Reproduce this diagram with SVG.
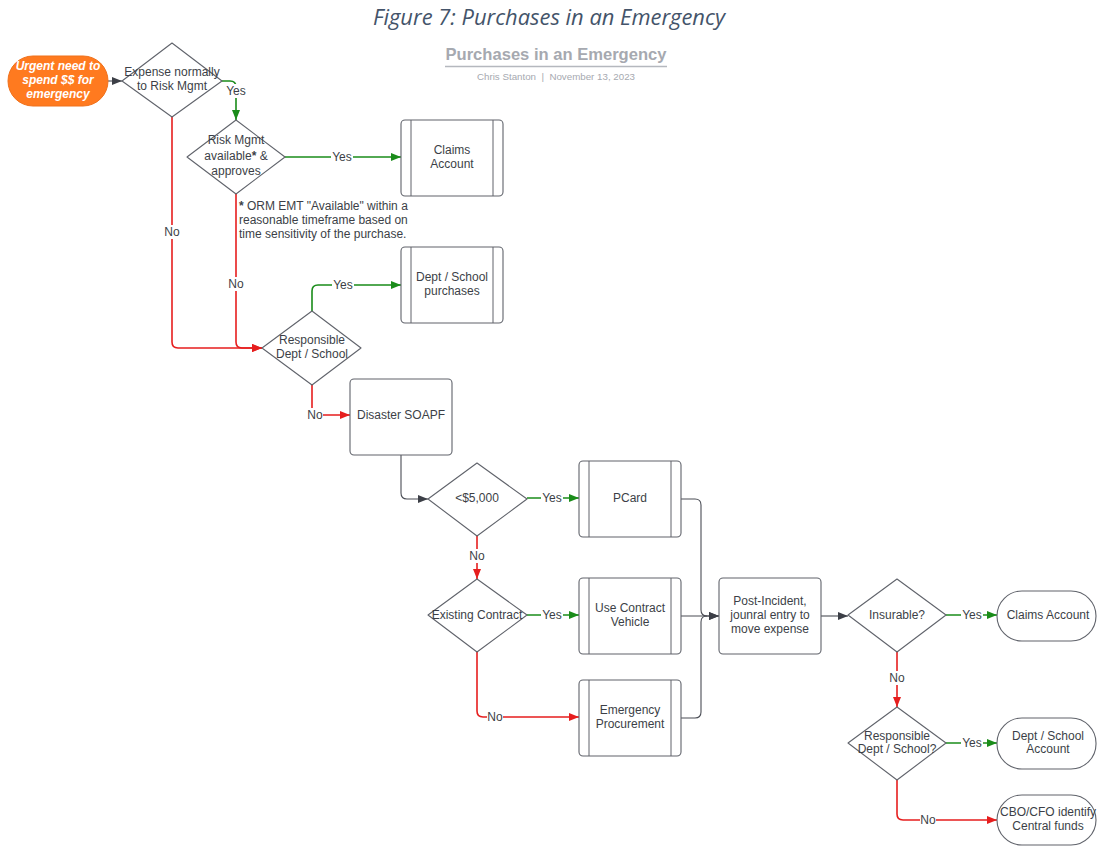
<svg xmlns="http://www.w3.org/2000/svg" width="1097" height="848" viewBox="0 0 1097 848">
<style>
.shape{fill:#fff;stroke:#60636b;stroke-width:1.1;stroke-linejoin:round}
.t{font-family:"Liberation Sans",Arial,sans-serif;font-size:12px;fill:#3c3f47;text-anchor:middle}
.lbl{font-family:"Liberation Sans",Arial,sans-serif;font-size:12px;fill:#3c3f47;text-anchor:middle;dominant-baseline:central}
.g{fill:none;stroke:#1a8c1a;stroke-width:1.6}
.r{fill:none;stroke:#e61e1e;stroke-width:1.6}
.k{fill:none;stroke:#4a4d55;stroke-width:1.1}
.bg{fill:#fff}
</style>
<defs>
<marker id="ag" viewBox="0 0 10 8" refX="10" refY="4" markerWidth="10" markerHeight="8" markerUnits="userSpaceOnUse" orient="auto"><path d="M0,0 L10,4 L0,8 Z" fill="#1a8c1a"/></marker>
<marker id="ar" viewBox="0 0 10 8" refX="10" refY="4" markerWidth="10" markerHeight="8" markerUnits="userSpaceOnUse" orient="auto"><path d="M0,0 L10,4 L0,8 Z" fill="#e61e1e"/></marker>
<marker id="ak" viewBox="0 0 10 8" refX="10" refY="4" markerWidth="10" markerHeight="8" markerUnits="userSpaceOnUse" orient="auto"><path d="M0,0 L10,4 L0,8 Z" fill="#3c3f47"/></marker>
</defs>
<rect width="1097" height="848" fill="#fff"/>

<g id="titles">
<text x="549" y="25" font-family="'Open Sans',sans-serif" font-style="italic" font-size="21" fill="#44546a" text-anchor="middle" textLength="352" lengthAdjust="spacingAndGlyphs">Figure 7: Purchases in an Emergency</text>
<text x="556" y="60" font-family="'Liberation Sans',Arial,sans-serif" font-weight="bold" font-size="16.5" fill="#a6a9b0" text-anchor="middle" textLength="221" lengthAdjust="spacingAndGlyphs">Purchases in an Emergency</text>
<line x1="445" y1="66.5" x2="667" y2="66.5" stroke="#b5b8be" stroke-width="1.5"/>
<text x="556" y="80" font-family="'Liberation Sans',Arial,sans-serif" font-size="9.5" fill="#a6a9b0" text-anchor="middle" xml:space="preserve" textLength="158" lengthAdjust="spacingAndGlyphs">Chris Stanton  |  November 13, 2023</text>
</g>

<g id="connectors">
<path class="k" d="M108,81 L122,81" marker-end="url(#ak)"/>
<path class="g" d="M222,81 L230,81 Q236,81 236,87 L236,120" marker-end="url(#ag)"/>
<path class="g" d="M285,157 L401,157" marker-end="url(#ag)"/>
<path class="r" d="M172,117 L172,342 Q172,348 178,348 L262,348" marker-end="url(#ar)"/>
<path class="r" d="M236,194 L236,342 Q236,348 242,348 L262,348" marker-end="url(#ar)"/>
<path class="g" d="M312,311 L312,291 Q312,285 318,285 L401,285" marker-end="url(#ag)"/>
<path class="r" d="M312,385 L312,415 L350,415" marker-end="url(#ar)"/>
<path class="k" d="M401,455 L401,493 Q401,499 407,499 L428,499" marker-end="url(#ak)"/>
<path class="g" d="M527,498 L579,498" marker-end="url(#ag)"/>
<path class="r" d="M477,536 L477,579" marker-end="url(#ar)"/>
<path class="g" d="M527,615 L579,615" marker-end="url(#ag)"/>
<path class="r" d="M477,652 L477,711 Q477,717 483,717 L579,717" marker-end="url(#ar)"/>
<path class="k" d="M681,499 L695,499 Q701,499 701,505 L701,610 Q701,616 707,616 L719,616" marker-end="url(#ak)"/>
<path class="k" d="M681,616 L719,616" marker-end="url(#ak)"/>
<path class="k" d="M681,718 L695,718 Q701,718 701,712 L701,622 Q701,616 707,616"/>
<path class="k" d="M821,616 L848,616" marker-end="url(#ak)"/>
<path class="g" d="M946,615 L997,615" marker-end="url(#ag)"/>
<path class="r" d="M897,652 L897,707" marker-end="url(#ar)"/>
<path class="g" d="M946,743 L997,743" marker-end="url(#ag)"/>
<path class="r" d="M897,780 L897,814 Q897,820 903,820 L997,820" marker-end="url(#ar)"/>
<g id="labels">
<rect class="bg" x="225" y="84" width="22" height="14"/><text class="lbl" x="236" y="91">Yes</text>
<rect class="bg" x="331" y="150" width="22" height="14"/><text class="lbl" x="342" y="157">Yes</text>
<rect class="bg" x="164" y="225" width="16" height="14"/><text class="lbl" x="172" y="232">No</text>
<rect class="bg" x="228" y="277" width="16" height="14"/><text class="lbl" x="236" y="284">No</text>
<rect class="bg" x="332" y="278" width="22" height="14"/><text class="lbl" x="343" y="285">Yes</text>
<rect class="bg" x="307" y="408" width="16" height="14"/><text class="lbl" x="315" y="415">No</text>
<rect class="bg" x="541" y="491" width="22" height="14"/><text class="lbl" x="552" y="498">Yes</text>
<rect class="bg" x="469" y="549" width="16" height="14"/><text class="lbl" x="477" y="556">No</text>
<rect class="bg" x="541" y="608" width="22" height="14"/><text class="lbl" x="552" y="615">Yes</text>
<rect class="bg" x="487" y="710" width="16" height="14"/><text class="lbl" x="495" y="717">No</text>
<rect class="bg" x="961" y="608" width="22" height="14"/><text class="lbl" x="972" y="615">Yes</text>
<rect class="bg" x="889" y="671" width="16" height="14"/><text class="lbl" x="897" y="678">No</text>
<rect class="bg" x="961" y="736" width="22" height="14"/><text class="lbl" x="972" y="743">Yes</text>
<rect class="bg" x="920" y="813" width="16" height="14"/><text class="lbl" x="928" y="820">No</text>
</g>
</g>

<g id="start">
<rect x="8" y="56" width="100" height="50" rx="25" fill="#ff7a1f" stroke="#f0701a"/>
<text class="t" x="58" y="70" font-weight="bold" font-style="italic" style="fill:#fff">Urgent need to</text>
<text class="t" x="58" y="84" font-weight="bold" font-style="italic" style="fill:#fff">spend $$ for</text>
<text class="t" x="58" y="98" font-weight="bold" font-style="italic" style="fill:#fff">emergency</text>
</g>

<g id="d-expense">
<path class="shape" d="M172,43 L222,81 L172,117 L122,81 Z"/>
<text class="t" x="172" y="76">Expense normally</text>
<text class="t" x="172" y="90">to Risk Mgmt</text>
</g>

<g id="d-riskmgmt">
<path class="shape" d="M236,120 L285,157 L236,194 L187,157 Z"/>
<text class="t" x="236" y="144">Risk Mgmt</text>
<text class="t" x="236" y="160">available<tspan font-weight="bold">*</tspan> &amp;</text>
<text class="t" x="236" y="175">approves</text>
</g>

<g id="note">
<text class="t" x="239" y="210" style="text-anchor:start"><tspan font-weight="bold">*</tspan> ORM EMT "Available" within a</text>
<text class="t" x="239" y="224" style="text-anchor:start">reasonable timeframe based on</text>
<text class="t" x="239" y="238" style="text-anchor:start">time sensitivity of the purchase.</text>
</g>

<g id="claims1">
<rect class="shape" x="401" y="120" width="102" height="76" rx="4"/>
<line x1="411" y1="120" x2="411" y2="196" stroke="#60636b"/>
<line x1="493" y1="120" x2="493" y2="196" stroke="#60636b"/>
<text class="t" x="452" y="154">Claims</text>
<text class="t" x="452" y="168">Account</text>
</g>

<g id="deptpurch">
<rect class="shape" x="401" y="247" width="102" height="76" rx="4"/>
<line x1="411" y1="247" x2="411" y2="323" stroke="#60636b"/>
<line x1="493" y1="247" x2="493" y2="323" stroke="#60636b"/>
<text class="t" x="452" y="281">Dept / School</text>
<text class="t" x="452" y="295">purchases</text>
</g>

<g id="d-respdept">
<path class="shape" d="M312,311 L361,348 L312,385 L262,348 Z"/>
<text class="t" x="312" y="344">Responsible</text>
<text class="t" x="312" y="358">Dept / School</text>
</g>

<g id="soapf">
<rect class="shape" x="350" y="379" width="102" height="76" rx="4"/>
<text class="t" x="401" y="419">Disaster SOAPF</text>
</g>

<g id="d-5000">
<path class="shape" d="M477,463 L527,499 L477,536 L428,499 Z"/>
<text class="t" x="477" y="502">&lt;$5,000</text>
</g>

<g id="pcard">
<rect class="shape" x="579" y="461" width="102" height="76" rx="4"/>
<line x1="589" y1="461" x2="589" y2="537" stroke="#60636b"/>
<line x1="671" y1="461" x2="671" y2="537" stroke="#60636b"/>
<text class="t" x="630" y="502">PCard</text>
</g>

<g id="d-contract">
<path class="shape" d="M477,579 L527,615 L477,652 L428,615 Z"/>
<text class="t" x="477" y="619">Existing Contract</text>
</g>

<g id="contract">
<rect class="shape" x="579" y="578" width="102" height="76" rx="4"/>
<line x1="589" y1="578" x2="589" y2="654" stroke="#60636b"/>
<line x1="671" y1="578" x2="671" y2="654" stroke="#60636b"/>
<text class="t" x="630" y="612">Use Contract</text>
<text class="t" x="630" y="626">Vehicle</text>
</g>

<g id="emergency">
<rect class="shape" x="579" y="680" width="102" height="76" rx="4"/>
<line x1="589" y1="680" x2="589" y2="756" stroke="#60636b"/>
<line x1="671" y1="680" x2="671" y2="756" stroke="#60636b"/>
<text class="t" x="630" y="714">Emergency</text>
<text class="t" x="630" y="728">Procurement</text>
</g>

<g id="postincident">
<rect class="shape" x="719" y="578" width="102" height="76" rx="4"/>
<text class="t" x="770" y="605">Post-Incident,</text>
<text class="t" x="770" y="619">jounral entry to</text>
<text class="t" x="770" y="633">move expense</text>
</g>

<g id="d-insurable">
<path class="shape" d="M897,579 L946,615 L897,652 L848,615 Z"/>
<text class="t" x="897" y="619">Insurable?</text>
</g>

<g id="claims2">
<rect class="shape" x="997" y="591" width="99" height="50" rx="25"/>
<text class="t" x="1048" y="619">Claims Account</text>
</g>

<g id="d-respdept2">
<path class="shape" d="M897,707 L946,743 L897,780 L848,743 Z"/>
<text class="t" x="897" y="740">Responsible</text>
<text class="t" x="897" y="753">Dept / School?</text>
</g>

<g id="deptaccount">
<rect class="shape" x="997" y="718" width="99" height="51" rx="25"/>
<text class="t" x="1048" y="740">Dept / School</text>
<text class="t" x="1048" y="753">Account</text>
</g>

<g id="cbo">
<rect class="shape" x="997" y="795" width="99" height="50" rx="25"/>
<text class="t" x="1048" y="816">CBO/CFO identify</text>
<text class="t" x="1048" y="830">Central funds</text>
</g>
</svg>
